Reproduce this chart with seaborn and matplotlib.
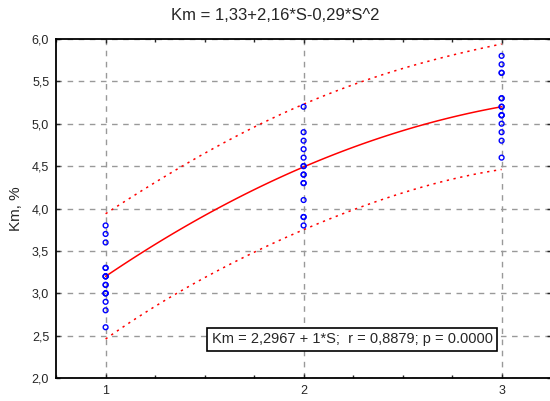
import numpy as np
import pandas as pd
import matplotlib
matplotlib.use("Agg")
import matplotlib.pyplot as plt
import seaborn as sns

# estilo
sns.set_style("ticks")
plt.rcParams['font.family'] = ['Liberation Sans', 'DejaVu Sans']

# datos (con valores repetidos superpuestos)
s1 = [3.8, 3.7, 3.6, 3.3, 3.3, 3.2, 3.2, 3.2, 3.1, 3.1, 3.0, 3.0, 3.0, 2.9, 2.8, 2.6]
s2 = [5.2, 4.9, 4.8, 4.7, 4.6, 4.5, 4.5, 4.4, 4.4, 4.3, 4.3, 4.1, 3.9, 3.9, 3.8]
s3 = [5.8, 5.7, 5.6, 5.6, 5.3, 5.3, 5.2, 5.2, 5.1, 5.1, 5.1, 5.0, 4.9, 4.8, 4.6]
coef = [1.33, 2.16, -0.29]   # Km = a + b*S + c*S^2
t_crit = 2.02                 # t 95%, gl ~ 43
yticks = [2.0, 2.5, 3.0, 3.5, 4.0, 4.5, 5.0, 5.5, 6.0]
xticks = [1, 2, 3]

df = pd.DataFrame({
    'S': [1] * len(s1) + [2] * len(s2) + [3] * len(s3),
    'Km': s1 + s2 + s3,
})

# curva y bandas de prediccion
xs = np.linspace(1, 3, 100)
X = np.column_stack([np.ones(len(df)), df['S'], df['S'] ** 2])
fit = coef[0] + coef[1] * df['S'] + coef[2] * df['S'] ** 2
sse = ((df['Km'] - fit) ** 2).sum()
s2e = sse / (len(df) - 3)
XtXi = np.linalg.inv(X.T @ X)
X0 = np.column_stack([np.ones_like(xs), xs, xs ** 2])
lev = np.einsum('ij,jk,ik->i', X0, XtXi, X0)
yhat = coef[0] + coef[1] * xs + coef[2] * xs ** 2
half = t_crit * np.sqrt(s2e * (1 + lev))
curve = pd.DataFrame({'S': xs, 'fit': yhat, 'lo': yhat - half, 'hi': yhat + half})

fig = plt.figure(figsize=(5.5, 4.01), dpi=100)
ax = fig.add_axes([0.102, 0.057, 0.9, 0.846])

ax.grid(True, which='major', color='#999999', linestyle=(0, (4, 4)), linewidth=1)
ax.set_axisbelow(True)

sns.lineplot(data=curve, x='S', y='fit', color='red', linewidth=1.1, ax=ax)
sns.lineplot(data=curve, x='S', y='hi', color='red', linewidth=1.1,
             linestyle=(0, (1.5, 3)), ax=ax)
sns.lineplot(data=curve, x='S', y='lo', color='red', linewidth=1.1,
             linestyle=(0, (1.5, 3)), ax=ax)
sns.scatterplot(data=df, x='S', y='Km', marker='o', s=12, facecolor='none',
                edgecolor='blue', linewidth=1.0, ax=ax, zorder=3)

ax.set_xlim(0.75, 3.25)
ax.set_ylim(2.0, 6.0)
ax.set_xticks(xticks)
ax.set_xticklabels([str(v) for v in xticks])
ax.set_xticks(np.arange(0.75, 3.3, 0.25), minor=True)
ax.set_yticks(yticks)
ax.set_yticklabels([f"{v:.1f}".replace('.', ',') for v in yticks])
ax.tick_params(which='both', direction='in', top=True, right=True,
               labelsize=9, length=3, width=1, pad=5)
ax.tick_params(which='minor', length=2)
for sp in ax.spines.values():
    sp.set_linewidth(1.3)
    sp.set_color('black')

ax.set_xlabel('')
ax.set_ylabel('Km, %', fontsize=11, labelpad=6)
fig.suptitle('Km = 1,33+2,16*S-0,29*S^2', fontsize=12, y=0.98)

ax.text(1.535, 2.46, 'Km = 2,2967 + 1*S;  r = 0,8879; p = 0.0000',
        fontsize=10.5, va='center', ha='left', zorder=5,
        bbox=dict(boxstyle='square,pad=0.3', facecolor='white',
                  edgecolor='black', linewidth=1.2))

plt.savefig('out.png', dpi=100)
